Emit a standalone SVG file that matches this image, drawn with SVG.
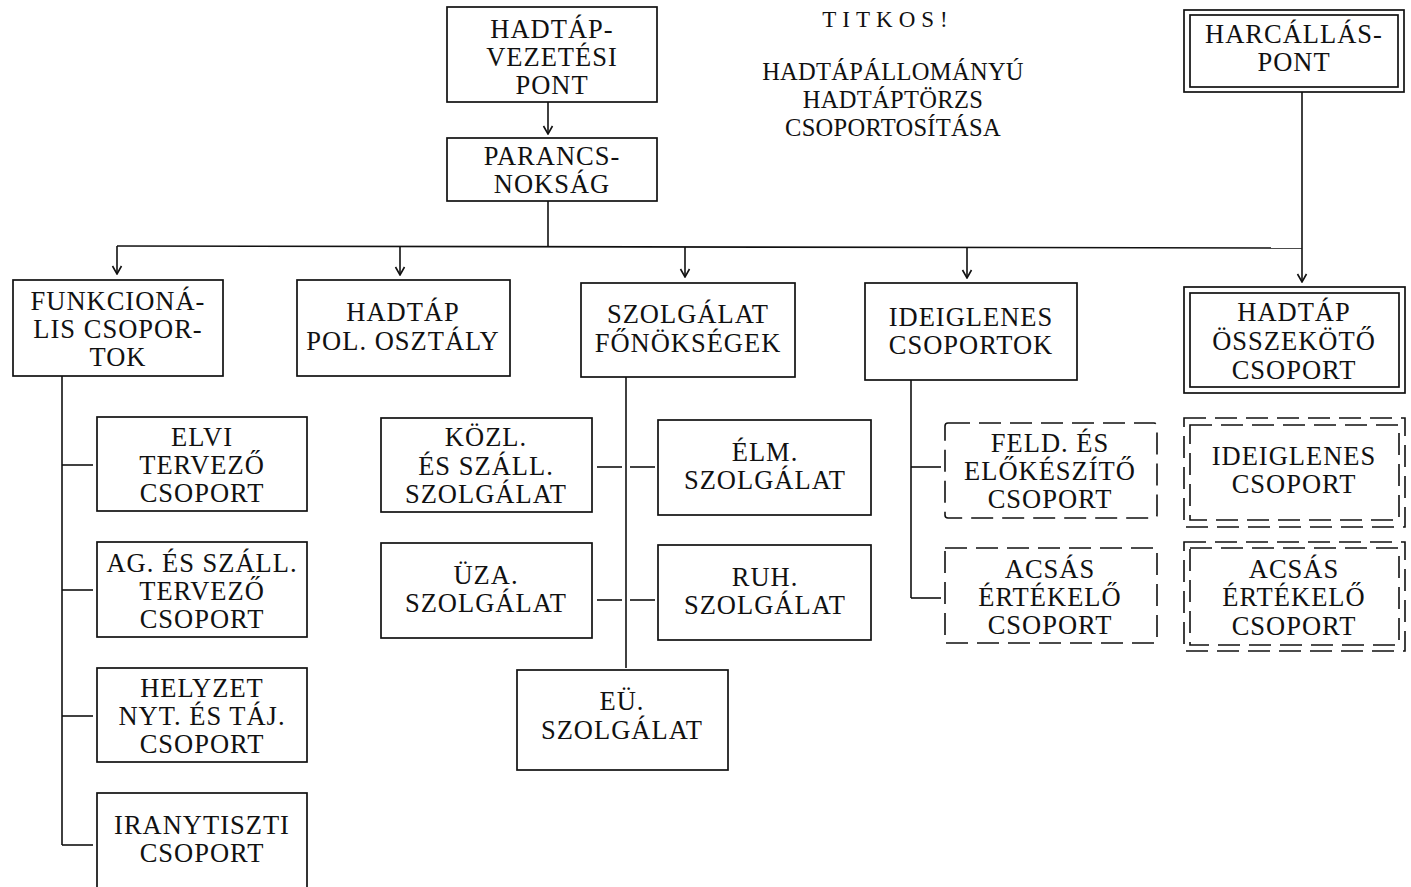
<svg xmlns="http://www.w3.org/2000/svg" width="1411" height="887" viewBox="0 0 1411 887">
<style>
.b{fill:none;stroke:#111;stroke-width:1.7}
.d{fill:none;stroke:#111;stroke-width:1.6;stroke-dasharray:22 9}
.l{fill:none;stroke:#111;stroke-width:1.6}
text{font-family:'Liberation Serif','DejaVu Serif','Times New Roman',serif;font-size:26.5px;fill:#111;text-anchor:middle;letter-spacing:1px}
</style>
<defs>
<marker id="ar" viewBox="0 0 12 12" refX="11" refY="6" markerWidth="12" markerHeight="12" markerUnits="userSpaceOnUse" orient="auto">
<path d="M3,1.5 L11,6 L3,10.5" fill="none" stroke="#111" stroke-width="1.6"/>
</marker>
</defs>
<rect width="1411" height="887" fill="#fff"/>
<g id="title" font-family="Liberation Serif, serif">
<text x="888" y="27" style="letter-spacing:6px;font-size:23px">TITKOS!</text>
<text x="893" y="80" style="font-size:24.5px;letter-spacing:0.3px">HADTÁPÁLLOMÁNYÚ</text>
<text x="893" y="108" style="font-size:24.5px;letter-spacing:0.3px">HADTÁPTÖRZS</text>
<text x="893" y="136" style="font-size:24.5px;letter-spacing:0.3px">CSOPORTOSÍTÁSA</text>
</g>
<g id="connectors">
<line class="l" x1="548" y1="102" x2="548" y2="134" marker-end="url(#ar)"/>
<line class="l" x1="548" y1="201" x2="548" y2="246"/>
<polyline class="l" points="117,246 1302,248"/>
<line class="l" x1="117" y1="246" x2="117" y2="274" marker-end="url(#ar)"/>
<line class="l" x1="400" y1="246" x2="400" y2="275" marker-end="url(#ar)"/>
<line class="l" x1="685" y1="247" x2="685" y2="277" marker-end="url(#ar)"/>
<line class="l" x1="967" y1="247" x2="967" y2="278" marker-end="url(#ar)"/>
<line class="l" x1="1302" y1="92" x2="1302" y2="282" marker-end="url(#ar)"/>
<line class="l" x1="62" y1="376" x2="62" y2="845"/>
<line class="l" x1="62" y1="465" x2="93" y2="465"/>
<line class="l" x1="62" y1="590" x2="93" y2="590"/>
<line class="l" x1="62" y1="716" x2="93" y2="716"/>
<line class="l" x1="62" y1="845" x2="93" y2="845"/>
<line class="l" x1="626" y1="377" x2="626" y2="668"/>
<line class="l" x1="597" y1="467" x2="622" y2="467"/>
<line class="l" x1="630" y1="467" x2="655" y2="467"/>
<line class="l" x1="597" y1="600" x2="622" y2="600"/>
<line class="l" x1="630" y1="600" x2="655" y2="600"/>
<line class="l" x1="911" y1="380" x2="911" y2="598"/>
<line class="l" x1="911" y1="467" x2="941" y2="467"/>
<line class="l" x1="911" y1="598" x2="941" y2="598"/>
</g>
<g font-family="Liberation Serif, serif">
<g id="hvp">
<rect class="b" x="447" y="7" width="210" height="95"/>
<text x="552" y="38">HADTÁP-</text>
<text x="552" y="66">VEZETÉSI</text>
<text x="552" y="94">PONT</text>
</g>
<g id="parancs">
<rect class="b" x="447" y="138" width="210" height="63"/>
<text x="552" y="165">PARANCS-</text>
<text x="552" y="193">NOKSÁG</text>
</g>
<g id="harc">
<rect class="b" x="1184" y="10" width="220" height="82"/>
<rect class="b" x="1190" y="15" width="208" height="72"/>
<text x="1294" y="43">HARCÁLLÁS-</text>
<text x="1294" y="71">PONT</text>
</g>
<g id="funk">
<rect class="b" x="13" y="280" width="210" height="96"/>
<text x="118" y="310">FUNKCIONÁ-</text>
<text x="118" y="338">LIS CSOPOR-</text>
<text x="118" y="366">TOK</text>
</g>
<g id="pol">
<rect class="b" x="297" y="280" width="213" height="96"/>
<text x="403" y="321">HADTÁP</text>
<text x="403" y="350">POL. OSZTÁLY</text>
</g>
<g id="szolg">
<rect class="b" x="581" y="283" width="214" height="94"/>
<text x="688" y="323">SZOLGÁLAT</text>
<text x="688" y="352">FŐNÖKSÉGEK</text>
</g>
<g id="ideigl">
<rect class="b" x="865" y="283" width="212" height="97"/>
<text x="971" y="326">IDEIGLENES</text>
<text x="971" y="354">CSOPORTOK</text>
</g>
<g id="osszekoto">
<rect class="b" x="1184" y="287" width="221" height="106"/>
<rect class="b" x="1190" y="293" width="209" height="94"/>
<text x="1294" y="321">HADTÁP</text>
<text x="1294" y="350">ÖSSZEKÖTŐ</text>
<text x="1294" y="379">CSOPORT</text>
</g>
<g id="elvi">
<rect class="b" x="97" y="417" width="210" height="94"/>
<text x="202" y="446">ELVI</text>
<text x="202" y="474">TERVEZŐ</text>
<text x="202" y="502">CSOPORT</text>
</g>
<g id="ag">
<rect class="b" x="97" y="542" width="210" height="95"/>
<text x="202" y="572">AG. ÉS SZÁLL.</text>
<text x="202" y="600">TERVEZŐ</text>
<text x="202" y="628">CSOPORT</text>
</g>
<g id="helyzet">
<rect class="b" x="97" y="668" width="210" height="94"/>
<text x="202" y="697">HELYZET</text>
<text x="202" y="725">NYT. ÉS TÁJ.</text>
<text x="202" y="753">CSOPORT</text>
</g>
<g id="irany">
<rect class="b" x="97" y="793" width="210" height="100"/>
<text x="202" y="834">IRANYTISZTI</text>
<text x="202" y="862">CSOPORT</text>
</g>
<g id="kozl">
<rect class="b" x="381" y="418" width="211" height="94"/>
<text x="486" y="446">KÖZL.</text>
<text x="486" y="475">ÉS SZÁLL.</text>
<text x="486" y="503">SZOLGÁLAT</text>
</g>
<g id="uza">
<rect class="b" x="381" y="543" width="211" height="95"/>
<text x="486" y="584">ÜZA.</text>
<text x="486" y="612">SZOLGÁLAT</text>
</g>
<g id="elm">
<rect class="b" x="658" y="420" width="213" height="95"/>
<text x="765" y="461">ÉLM.</text>
<text x="765" y="489">SZOLGÁLAT</text>
</g>
<g id="ruh">
<rect class="b" x="658" y="545" width="213" height="95"/>
<text x="765" y="586">RUH.</text>
<text x="765" y="614">SZOLGÁLAT</text>
</g>
<g id="eu">
<rect class="b" x="517" y="670" width="211" height="100"/>
<text x="622" y="710">EÜ.</text>
<text x="622" y="739">SZOLGÁLAT</text>
</g>
<g id="feld">
<rect class="d" x="945" y="423" width="212" height="95" rx="3"/>
<text x="1050" y="452">FELD. ÉS</text>
<text x="1050" y="480">ELŐKÉSZÍTŐ</text>
<text x="1050" y="508">CSOPORT</text>
</g>
<g id="acsas1">
<rect class="d" x="945" y="548" width="212" height="95"/>
<text x="1050" y="578">ACSÁS</text>
<text x="1050" y="606">ÉRTÉKELŐ</text>
<text x="1050" y="634">CSOPORT</text>
</g>
<g id="ideigl2">
<rect class="d" x="1184" y="418" width="221" height="109"/>
<rect class="d" x="1190" y="425" width="209" height="95"/>
<text x="1294" y="465">IDEIGLENES</text>
<text x="1294" y="493">CSOPORT</text>
</g>
<g id="acsas2">
<rect class="d" x="1184" y="542" width="221" height="109"/>
<rect class="d" x="1190" y="548" width="209" height="97"/>
<text x="1294" y="578">ACSÁS</text>
<text x="1294" y="606">ÉRTÉKELŐ</text>
<text x="1294" y="635">CSOPORT</text>
</g>
</g>
</svg>
